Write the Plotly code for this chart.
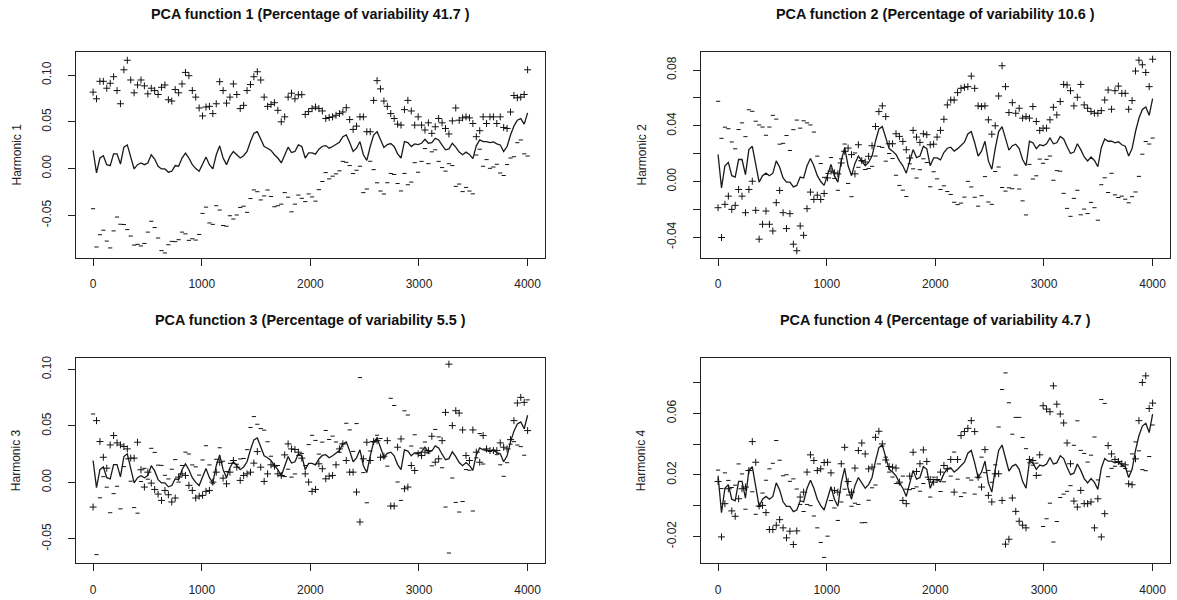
import numpy as np
import plotly.graph_objects as go

# evaluation grid used by plot.pca.fd (nx = 128 points on [0, 4000])
argvals = np.linspace(0, 4000, 128)

mean_fn = [0.0194, -0.0046, 0.0113, 0.0137, 0.0042, 0.0032, 0.0158, 0.0158, 0.0049, 0.0229,
           0.0253, 0.0113, -0.0004, 0.0042, 0.0060, 0.0042, 0.0060, 0.0148, 0.0102, 0.0025,
           -0.0004, -0.0004, -0.0039, -0.0028, 0.0032, 0.0025, 0.0113, 0.0165, 0.0113, 0.0042,
           0.0000, -0.0028, 0.0042, 0.0123, 0.0042, -0.0004, 0.0148, 0.0243, 0.0113, 0.0042,
           0.0130, 0.0183, 0.0148, 0.0113, 0.0137, 0.0183, 0.0289, 0.0377, 0.0394, 0.0306,
           0.0236, 0.0218, 0.0194, 0.0148, 0.0113, 0.0060, 0.0148, 0.0229, 0.0172, 0.0183,
           0.0253, 0.0236, 0.0113, 0.0169, 0.0169, 0.0155, 0.0208, 0.0239, 0.0246, 0.0218,
           0.0236, 0.0257, 0.0282, 0.0341, 0.0359, 0.0278, 0.0183, 0.0218, 0.0289, 0.0148,
           0.0088, 0.0236, 0.0359, 0.0394, 0.0306, 0.0225, 0.0257, 0.0268, 0.0236, 0.0158,
           0.0113, 0.0289, 0.0278, 0.0236, 0.0264, 0.0257, 0.0271, 0.0313, 0.0271, 0.0278,
           0.0324, 0.0306, 0.0250, 0.0201, 0.0211, 0.0271, 0.0229, 0.0176, 0.0148, 0.0176,
           0.0151, 0.0106, 0.0243, 0.0306, 0.0289, 0.0289, 0.0278, 0.0285, 0.0264, 0.0253,
           0.0183, 0.0236, 0.0359, 0.0454, 0.0517, 0.0535, 0.0475, 0.0595]

# "+" points: mean + harmonic
plus_h1 = [0.0817, 0.0746, 0.0933, 0.0933, 0.0859, 0.0912, 0.0982, 0.0834, 0.0693, 0.1056,
           0.1158, 0.0947, 0.0810, 0.0894, 0.0947, 0.0884, 0.0799, 0.0859, 0.0834, 0.0792,
           0.0869, 0.0894, 0.0736, 0.0722, 0.0845, 0.0810, 0.0905, 0.1028, 0.0993, 0.0834,
           0.0764, 0.0648, 0.0563, 0.0658, 0.0665, 0.0588, 0.0693, 0.0929, 0.0834, 0.0700,
           0.0764, 0.0905, 0.0792, 0.0641, 0.0676, 0.0834, 0.0898, 0.0982, 0.1035, 0.0947,
           0.0764, 0.0665, 0.0686, 0.0704, 0.0623, 0.0500, 0.0553, 0.0764, 0.0806, 0.0746,
           0.0789, 0.0790, 0.0579, 0.0609, 0.0641, 0.0658, 0.0641, 0.0616, 0.0535, 0.0546,
           0.0553, 0.0570, 0.0588, 0.0605, 0.0651, 0.0524, 0.0419, 0.0454, 0.0553, 0.0553,
           0.0394, 0.0394, 0.0729, 0.0940, 0.0852, 0.0722, 0.0665, 0.0588, 0.0535, 0.0475,
           0.0465, 0.0630, 0.0729, 0.0616, 0.0465, 0.0553, 0.0465, 0.0412, 0.0489, 0.0377,
           0.0447, 0.0535, 0.0489, 0.0429, 0.0370, 0.0510, 0.0648, 0.0517, 0.0542, 0.0553,
           0.0542, 0.0482, 0.0341, 0.0405, 0.0553, 0.0482, 0.0553, 0.0553, 0.0482, 0.0553,
           0.0440, 0.0429, 0.0605, 0.0781, 0.0757, 0.0764, 0.0792, 0.1056]

plus_h2 = [-0.0188, -0.0402, -0.0164, -0.0105, -0.0200, -0.0171, -0.0057, -0.0105, -0.0224, -0.0057,
           0.0002, -0.0207, -0.0414, -0.0307, -0.0212, -0.0307, -0.0355, -0.0152, -0.0064, -0.0224,
           -0.0338, -0.0231, -0.0450, -0.0497, -0.0319, -0.0386, -0.0195, -0.0076, -0.0129, -0.0098,
           -0.0129, -0.0086, 0.0026, 0.0074, 0.0062, 0.0055, 0.0133, 0.0217, 0.0240, 0.0193,
           0.0055, 0.0264, 0.0150, 0.0140, 0.0181, 0.0257, 0.0395, 0.0502, 0.0543, 0.0466,
           0.0271, 0.0271, 0.0343, 0.0324, 0.0288, 0.0228, 0.0169, 0.0367, 0.0319, 0.0281,
           0.0343, 0.0336, 0.0264, 0.0268, 0.0319, 0.0367, 0.0447, 0.0550, 0.0585, 0.0585,
           0.0638, 0.0669, 0.0676, 0.0681, 0.0757, 0.0669, 0.0543, 0.0538, 0.0543, 0.0443,
           0.0340, 0.0400, 0.0614, 0.0831, 0.0681, 0.0495, 0.0566, 0.0490, 0.0526, 0.0455,
           0.0466, 0.0455, 0.0538, 0.0431, 0.0367, 0.0383, 0.0383, 0.0443, 0.0533, 0.0478,
           0.0574, 0.0697, 0.0693, 0.0652, 0.0543, 0.0605, 0.0697, 0.0550, 0.0526, 0.0502,
           0.0490, 0.0490, 0.0509, 0.0585, 0.0657, 0.0519, 0.0652, 0.0685, 0.0633, 0.0633,
           0.0519, 0.0581, 0.0793, 0.0871, 0.0838, 0.0783, 0.0681, 0.0878]

plus_h3 = [-0.0218, 0.0547, 0.0362, 0.0223, 0.0126, 0.0332, 0.0415, 0.0350, 0.0332, 0.0318,
           0.0297, 0.0215, 0.0215, 0.0356, 0.0112, -0.0041, 0.0091, -0.0006, -0.0062, -0.0103,
           -0.0159, -0.0071, -0.0109, -0.0173, -0.0138, 0.0047, 0.0076, 0.0062, -0.0026, -0.0071,
           -0.0138, -0.0121, -0.0115, -0.0079, -0.0071, 0.0003, 0.0091, 0.0179, 0.0038, -0.0012,
           0.0091, 0.0194, 0.0135, 0.0018, 0.0062, 0.0076, 0.0091, 0.0171, 0.0273, 0.0135,
           0.0009, 0.0076, 0.0156, 0.0144, 0.0076, 0.0062, 0.0244, 0.0341, 0.0297, 0.0291,
           0.0268, 0.0215, 0.0076, 0.0003, -0.0079, -0.0062, 0.0165, 0.0121, 0.0032, 0.0056,
           0.0062, 0.0156, 0.0297, 0.0341, 0.0194, 0.0091, 0.0091, -0.0085, -0.0350, 0.0209,
           0.0356, 0.0194, 0.0362, 0.0370, 0.0223, 0.0232, 0.0370, -0.0209, -0.0209, 0.0312,
           0.0385, -0.0056, -0.0041, 0.0150, 0.0106, 0.0253, 0.0238, 0.0268, 0.0282, 0.0409,
           0.0179, 0.0209, 0.0370, 0.0620, 0.1047, 0.0503, 0.0635, 0.0614, 0.0465, 0.0238,
           0.0194, 0.0465, 0.0268, 0.0179, 0.0415, 0.0297, 0.0282, 0.0282, 0.0282, 0.0350,
           0.0312, 0.0297, 0.0379, 0.0547, 0.0703, 0.0753, 0.0709, 0.0459]

plus_h4 = [0.0157, -0.0203, 0.0013, 0.0110, -0.0034, -0.0069, 0.0045, 0.0110, 0.0121, 0.0228,
           0.0416, 0.0282, -0.0002, 0.0002, -0.0045, -0.0155, -0.0155, -0.0127, -0.0091, -0.0144,
           -0.0209, -0.0166, -0.0252, -0.0164, 0.0056, 0.0088, 0.0218, 0.0330, 0.0293, 0.0228,
           0.0239, 0.0280, 0.0282, 0.0213, 0.0099, 0.0088, 0.0272, 0.0379, 0.0157, 0.0088,
           0.0244, 0.0358, 0.0407, 0.0336, 0.0239, 0.0250, 0.0444, 0.0483, 0.0401, 0.0297,
           0.0254, 0.0250, 0.0244, 0.0153, 0.0034, 0.0013, 0.0192, 0.0347, 0.0222, 0.0272,
           0.0362, 0.0287, 0.0170, 0.0153, 0.0170, 0.0218, 0.0261, 0.0239, 0.0300, 0.0088,
           0.0300, 0.0455, 0.0481, 0.0502, 0.0552, 0.0481, 0.0185, 0.0121, 0.0364, 0.0067,
           0.0024, 0.0207, 0.0207, 0.0034, -0.0250, -0.0218, 0.0050, -0.0037, -0.0101, -0.0127,
           -0.0144, 0.0300, 0.0293, 0.0196, 0.0330, 0.0649, 0.0627, 0.0610, 0.0778, 0.0659,
           0.0595, 0.0537, 0.0407, 0.0272, 0.0030, -0.0009, 0.0099, 0.0013, 0.0013, 0.0024,
           -0.0144, 0.0045, -0.0203, -0.0052, 0.0390, 0.0336, 0.0300, 0.0287, 0.0272, 0.0265,
           0.0142, 0.0136, 0.0304, 0.0552, 0.0800, 0.0843, 0.0631, 0.0666]

pct_var = ["41.7", "10.6", "5.5", "4.7"]
harm_names = ["Harmonic 1", "Harmonic 2", "Harmonic 3", "Harmonic 4"]
x_ticks = [0, 1000, 2000, 3000, 4000]
y_ticks = [
    ([-0.05, 0.0, 0.05, 0.10], ["-0.05", "0.00", "0.05", "0.10"]),
    ([-0.04, -0.02, 0.0, 0.02, 0.04, 0.06, 0.08], ["-0.04", "", "0.00", "", "0.04", "", "0.08"]),
    ([-0.05, 0.0, 0.05, 0.10], ["-0.05", "0.00", "0.05", "0.10"]),
    ([-0.02, 0.0, 0.02, 0.04, 0.06, 0.08], ["-0.02", "", "0.02", "", "0.06", ""]),
]
y_ranges = [[-0.0954, 0.1248], [-0.0548, 0.0931], [-0.0717, 0.1106], [-0.0375, 0.0962]]
x_range = [-160, 4160]

W, H = 1177, 600
col_px = [(75.7, 545.0), (700.7, 1170.0)]
row_px = [(50.0, 256.7), (356.7, 563.3)]

FONT = "Liberation Sans, Arial, Helvetica, sans-serif"
fig = go.Figure()
mean_arr = np.array(mean_fn)
plus_list = [plus_h1, plus_h2, plus_h3, plus_h4]

for i in range(4):
    r, c = divmod(i, 2)
    xa = "x" if i == 0 else f"x{i+1}"
    ya = "y" if i == 0 else f"y{i+1}"
    plus = np.array(plus_list[i])
    harm = plus - mean_arr
    minus = mean_arr - harm
    fig.add_trace(go.Scatter(x=argvals, y=mean_arr, mode="lines",
                             line=dict(color="#1a1a1a", width=1.3),
                             xaxis=xa, yaxis=ya, showlegend=False, hoverinfo="skip"))
    fig.add_trace(go.Scatter(x=argvals, y=plus, mode="markers",
                             marker=dict(symbol="cross-thin", size=5,
                                         line=dict(color="#111", width=1)),
                             xaxis=xa, yaxis=ya, showlegend=False))
    fig.add_trace(go.Scatter(x=argvals, y=minus, mode="markers",
                             marker=dict(symbol="line-ew", size=3,
                                         line=dict(color="#111", width=1)),
                             xaxis=xa, yaxis=ya, showlegend=False))

    x0, x1 = col_px[c]
    y0, y1 = row_px[r]
    xdom = [x0 / W, x1 / W]
    ydom = [1 - y1 / H, 1 - y0 / H]
    xkey = "xaxis" if i == 0 else f"xaxis{i+1}"
    ykey = "yaxis" if i == 0 else f"yaxis{i+1}"
    common = dict(showgrid=False, zeroline=False, showline=True, mirror=True,
                  linecolor="#222", linewidth=1, ticks="outside", ticklen=7,
                  tickcolor="#222", tickwidth=1,
                  tickfont=dict(family=FONT, size=12, color="#222"))
    fig.update_layout({
        xkey: dict(domain=xdom, range=x_range, tickvals=x_ticks,
                   ticktext=[str(v) for v in x_ticks], anchor=ya,
                   ticklabelstandoff=8, **common),
        ykey: dict(domain=ydom, range=y_ranges[i], tickvals=y_ticks[i][0],
                   ticktext=y_ticks[i][1], anchor=xa, tickangle=-90,
                   ticklabelstandoff=12, **common),
    })
    fig.add_annotation(text=f"<b>PCA function {i+1} (Percentage of variability {pct_var[i]} )</b>",
                       xref="paper", yref="paper", x=(x0 + x1) / 2 / W,
                       y=1 - (y0 - 38) / H, showarrow=False, xanchor="center", yanchor="middle",
                       font=dict(family=FONT, size=14.4, color="#111"))
    fig.add_annotation(text=harm_names[i], xref="paper", yref="paper",
                       x=(x0 - 59) / W, y=1 - (y0 + y1) / 2 / H, textangle=-90,
                       showarrow=False, xanchor="center", yanchor="middle",
                       font=dict(family=FONT, size=12, color="#222"))

fig.update_layout(width=W, height=H, margin=dict(l=0, r=0, t=0, b=0),
                  paper_bgcolor="white", plot_bgcolor="white")
fig.write_html("out.html")
